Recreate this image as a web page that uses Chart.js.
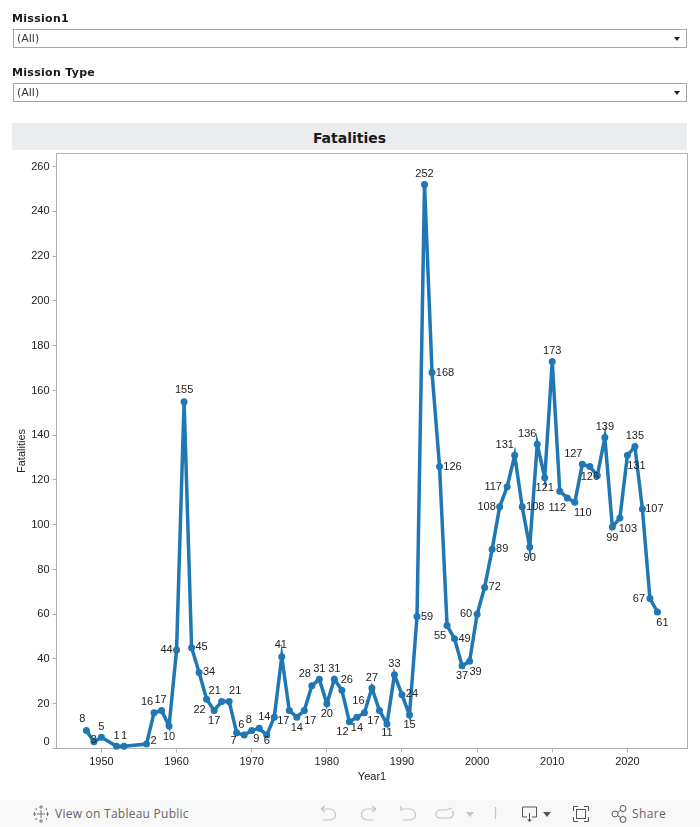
<!DOCTYPE html>
<html>
<head>
<meta charset="utf-8">
<title>Fatalities</title>
<script src="https://cdn.jsdelivr.net/npm/chart.js@4"></script>
<style>
  html, body { margin: 0; padding: 0; background: #fff; overflow: hidden; }
  #page { position: relative; width: 700px; height: 827px; font-family: "DejaVu Sans", sans-serif; color: #1a1a1a; }
  #chart { position: absolute; left: 0; top: 0; }
  .filter-label { position: absolute; left: 12px; font-size: 11px; font-weight: bold; letter-spacing: 0.3px; line-height: 14px; }
  .filter-box { position: absolute; left: 13px; width: 672px; height: 17px; border: 1px solid #a6a6a6; font-size: 11px; line-height: 17px; text-indent: 3px; color: #333; }
  .filter-box::after { content: ""; position: absolute; right: 6px; top: 7px; border: 3.5px solid transparent; border-top: 4px solid #222; border-bottom: 0; }
  #band { position: absolute; left: 12px; top: 123px; width: 675px; height: 27px; background: #ebecf0; text-align: center; font-size: 14px; font-weight: bold; line-height: 31px; }
  #toolbar { position: absolute; left: 0; top: 800px; width: 700px; height: 27px; background: #f8f8f8; color: #666; }
  #toolbar span { position: absolute; top: 6px; font-family: "Open Sans", sans-serif; font-size: 12px; line-height: 16px; }
  #toolbar svg { position: absolute; left: 0; top: 0; }
</style>
</head>
<body>
<div id="page">
  <canvas id="chart" width="700" height="827"></canvas>
  <div class="filter-label" style="top:12px">Mission1</div>
  <div class="filter-box" style="top:29px">(All)</div>
  <div class="filter-label" style="top:66px">Mission Type</div>
  <div class="filter-box" style="top:83px">(All)</div>
  <div id="band">Fatalities</div>
  <div id="toolbar">
    <svg width="700" height="27" fill="none" stroke="#777" stroke-width="1">
      <path d="M41 10V18M37 14H45M41 5V9M39 7H43M41 19V23M39 21H43M33 14H36M34.5 12V16M46 14H49M47.5 12V16M36 9H37M36 8.5V10M46 9H47M46.5 8.5V10M36 19H37M36 18.5V20M46 19H47M46.5 18.5V20"/>
      <g stroke="#c4c4c4" stroke-width="1.2">
        <path d="M321 9H330A5 5 0 0 1 330 20H323M321 9L325 6M321 9L325 12"/>
        <path d="M376 9H367A5 5 0 0 0 367 20H374M376 9L372 6M376 9L372 12"/>
        <path d="M401 6V11M401 9H410A5 5 0 0 1 410 20H403"/>
        <path d="M446 10H440A4 4 0 0 0 440 18H449A4 4 0 0 0 452 11M446 10L452 8"/>
        <path d="M495.5 7V19"/>
      </g>
      <path d="M466 12H474L470 17Z" fill="#c4c4c4" stroke="none"/>
      <path d="M527 17H522.5V7H536.5V17H532M529.5 13V20" stroke="#555"/>
      <path d="M527 19.5H532L529.5 22Z" fill="#555" stroke="none"/>
      <path d="M543 12H551L547 17Z" fill="#555" stroke="none"/>
      <path d="M573.5 11V6.5H578M584 6.5H588.5V11M588.5 17V21.5H584M578 21.5H573.5V17" stroke="#555"/>
      <rect x="576.5" y="9.5" width="9" height="9" stroke="#555"/>
      <g stroke="#555"><circle cx="615" cy="14" r="3"/><circle cx="623" cy="8.5" r="3"/><circle cx="623" cy="19.5" r="3"/><path d="M617.5 12.5L620.5 10.5M617.5 15.5L620.5 17.5"/></g>
    </svg>
    <span style="left:55px;letter-spacing:0.25px">View on Tableau Public</span>
    <span style="left:632px;letter-spacing:0.4px">Share</span>
  </div>
</div>
<script>
const years = [1948, 1949, 1950, 1952, 1953, 1956, 1957, 1958, 1959, 1960, 1961, 1962, 1963, 1964, 1965, 1966, 1967, 1968, 1969, 1970, 1971, 1972, 1973, 1974, 1975, 1976, 1977, 1978, 1979, 1980, 1981, 1982, 1983, 1984, 1985, 1986, 1987, 1988, 1989, 1990, 1991, 1992, 1993, 1994, 1995, 1996, 1997, 1998, 1999, 2000, 2001, 2002, 2003, 2004, 2005, 2006, 2007, 2008, 2009, 2010, 2011, 2012, 2013, 2014, 2015, 2016, 2017, 2018, 2019, 2020, 2021, 2022, 2023, 2024];
const fatalities = [8, 3, 5, 1, 1, 2, 16, 17, 10, 44, 155, 45, 34, 22, 17, 21, 21, 7, 6, 8, 9, 6, 14, 41, 17, 14, 17, 28, 31, 20, 31, 26, 12, 14, 16, 27, 17, 11, 33, 24, 15, 59, 252, 168, 126, 55, 49, 37, 39, 60, 72, 89, 108, 117, 131, 108, 90, 136, 121, 173, 115, 112, 110, 127, 126, 122, 139, 99, 103, 131, 135, 107, 67, 61];
const hiddenLabelYears = [2011, 2016];
const yTicks = [0, 20, 40, 60, 80, 100, 120, 140, 160, 180, 200, 220, 240, 260];

// label offsets from each point, same order as years
const labelDx = [-4, 0, 0, 0, 0, 7, -7, -1, 0, -10, 0, 10, 10, -7, 0, -7, 6, -3, -3, -3, -3, 0, -10, -1, -6, 0, 6, -7, 0, 0, 0, 5, -7, 0, -6, 0, -6, 0, 0, 10, 0, 10, 0, 13, 13, -7, 10, 0, 6, -11, 10, 10, -13, -14, -10, 13, 0, -10, 0, 0, 0, -10, 8, -9, 0, 0, 0, 0, 8, 9, 0, 12, -11, 5];
const labelDy = [-12, -2, -11, -11, -11, -4, -11, -11, 10, -1, -12, -1, -1, 10, 10, -11, -11, 8, -11, -11, 10, 5, -1, -12, 10, 10, 10, -12, -11, 10, -11, -11, 10, 10, -12, -11, 10, 9, -11, -1, 10, 0, -11, 0, 0, 10, 0, 10, 10, -1, -1, -1, 0, 0, -11, 0, 10, -11, 10, -11, 0, 10, 10, -11, 10, 0, -11, 10, 10, 10, -11, -1, 0, 10];

const plotBox = { left: 56.5, top: 153.5, right: 687.5, bottom: 748.5 };

const pointLabels = {
  id: "pointLabels",
  afterDatasetsDraw(chart) {
    const { ctx, scales } = chart;
    ctx.save();
    ctx.font = '11px "Liberation Sans", Arial, sans-serif';
    ctx.fillStyle = "#222";
    ctx.textAlign = "center";
    ctx.textBaseline = "middle";
    years.forEach((year, i) => {
      if (hiddenLabelYears.includes(year)) return;
      const x = scales.x.getPixelForValue(year) + labelDx[i];
      const y = scales.y.getPixelForValue(fatalities[i]) + labelDy[i] + 0.5;
      ctx.fillText(String(fatalities[i]), x, y);
    });
    ctx.restore();
  },
};

const plotFrame = {
  id: "plotFrame",
  beforeDatasetsDraw(chart) {
    const { ctx, chartArea } = chart;
    ctx.save();
    ctx.strokeStyle = "#b0b0b0";
    ctx.lineWidth = 1;
    ctx.strokeRect(chartArea.left, chartArea.top, chartArea.width, chartArea.height);
    ctx.restore();
  },
};

const tickFont = { family: '"Liberation Sans", Arial, sans-serif', size: 11 };

new Chart(document.getElementById("chart"), {
  type: "line",
  data: {
    datasets: [{
      data: years.map((year, i) => ({ x: year, y: fatalities[i] })),
      borderColor: "#1f77b4",
      backgroundColor: "#1f77b4",
      borderWidth: 3.5,
      pointRadius: 3.5,
      pointBorderWidth: 0,
      pointHoverRadius: 3.5,
      tension: 0,
      clip: false,
    }],
  },
  plugins: [plotFrame, pointLabels],
  options: {
    responsive: false,
    animation: false,
    devicePixelRatio: 1,
    layout: { padding: { left: 0, right: 700 - plotBox.right, top: plotBox.top, bottom: 0 } },
    plugins: { legend: { display: false }, title: { display: false }, tooltip: { enabled: false } },
    scales: {
      x: {
        type: "linear",
        min: 1944.02,
        max: 2028.0,
        afterFit(scale) { scale.height = 827 - plotBox.bottom; },
        grid: { drawOnChartArea: false, drawTicks: true, tickLength: 4, color: "#b0b0b0" },
        border: { color: "#b0b0b0" },
        ticks: {
          stepSize: 10,
          includeBounds: false,
          autoSkip: false,
          maxRotation: 0,
          padding: 3,
          color: "#222",
          font: tickFont,
          callback: (value) => String(value),
        },
        title: { display: true, text: "Year1", color: "#222", font: tickFont, padding: { top: 3, bottom: 43 } },
      },
      y: {
        type: "linear",
        min: 0,
        max: 265.9,
        afterFit(scale) { scale.width = plotBox.left; },
        grid: { drawOnChartArea: false, drawTicks: true, tickLength: 4, color: "#b0b0b0" },
        border: { color: "#b0b0b0" },
        afterBuildTicks(scale) { scale.ticks = yTicks.map((value) => ({ value })); },
        ticks: {
          padding: 3,
          color: "#222",
          font: tickFont,
          // zero sits half a line above its tick in the reference
          callback: (value) => (value === 0 ? ["0", ""] : String(value)),
        },
        title: { display: true, text: "Fatalities", color: "#222", font: tickFont, padding: { top: 15, bottom: 6 } },
      },
    },
  },
});
</script>
</body>
</html>
